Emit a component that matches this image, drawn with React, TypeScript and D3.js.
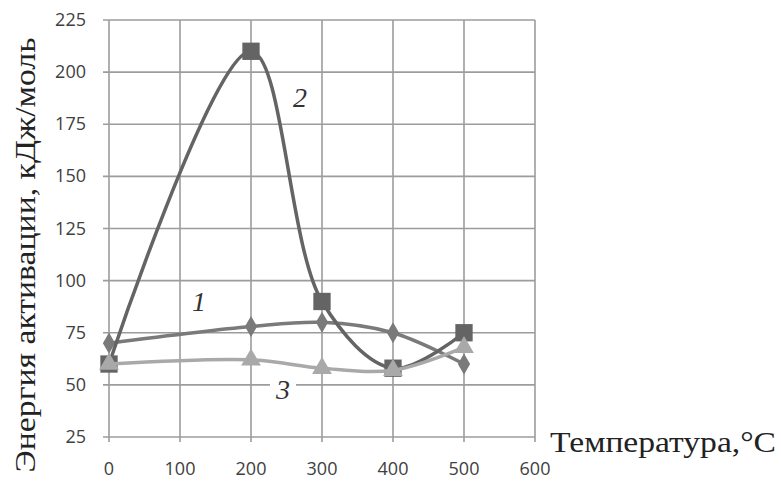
import React, { useEffect, useRef } from 'react';
import * as d3 from 'd3';

const temps = [0, 200, 300, 400, 500];
const series1 = [70, 78, 80, 75, 60];
const series2 = [60, 210, 90, 58, 75];
const series3 = [60, 62, 58, 57, 68];
const xTicks = [0, 100, 200, 300, 400, 500, 600];
const yTicks = [25, 50, 75, 100, 125, 150, 175, 200, 225];

const App = () => {
    const chartRef = useRef<SVGSVGElement>(null);

    useEffect(() => {
        const svg = d3.select(chartRef.current);
        svg.selectAll("*").remove();

        const x = d3.scaleLinear().domain([0, 600]).range([109, 535]);
        const y = d3.scaleLinear().domain([25, 225]).range([437, 20]);
        const grid = "#9c9c9c";

        // grid + ticks
        svg.append("g").selectAll("line")
            .data(xTicks)
            .enter().append("line")
            .attr("x1", d => x(d)).attr("x2", d => x(d))
            .attr("y1", y(225)).attr("y2", y(25) + 5)
            .attr("stroke", grid).attr("stroke-width", 1.6);

        svg.append("g").selectAll("line")
            .data(yTicks)
            .enter().append("line")
            .attr("x1", x(0) - 6).attr("x2", x(600))
            .attr("y1", d => y(d)).attr("y2", d => y(d))
            .attr("stroke", grid).attr("stroke-width", 1.6);

        // tick labels
        svg.append("g").selectAll("text")
            .data(yTicks)
            .enter().append("text")
            .attr("x", 86).attr("y", d => y(d) + 6)
            .attr("text-anchor", "end")
            .attr("font-family", "Open Sans")
            .attr("font-size", 18)
            .attr("fill", "#404040")
            .text(d => d);

        svg.append("g").selectAll("text")
            .data(xTicks)
            .enter().append("text")
            .attr("x", d => x(d)).attr("y", 475)
            .attr("text-anchor", "middle")
            .attr("font-family", "Open Sans")
            .attr("font-size", 18)
            .attr("fill", "#404040")
            .text(d => d);

        const line = d3.line<number>()
            .x((d, i) => x(temps[i]))
            .y(d => y(d))
            .curve(d3.curveCatmullRom.alpha(0.5));

        const all = [
            { values: series1, color: "#7a7a7a", shape: d3.symbolDiamond, size: 130 },
            { values: series2, color: "#646464", shape: d3.symbolSquare, size: 300 },
            { values: series3, color: "#a9a9a9", shape: d3.symbolTriangle, size: 170 },
        ];

        all.forEach(s => {
            svg.append("path")
                .attr("d", line(s.values))
                .attr("fill", "none")
                .attr("stroke", s.color)
                .attr("stroke-width", 3.5);
            svg.append("g").selectAll("path")
                .data(s.values)
                .enter().append("path")
                .attr("transform", (d, i) => `translate(${x(temps[i])},${y(d)})`)
                .attr("d", d3.symbol().type(s.shape).size(s.size)())
                .attr("fill", s.color);
        });

        // curve labels
        const labels = [["1", 199, 311], ["2", 300, 107], ["3", 283, 399]];
        svg.append("rect")
            .attr("x", 270).attr("y", 378).attr("width", 26).attr("height", 24)
            .attr("fill", "white");
        svg.append("g").selectAll("text")
            .data(labels)
            .enter().append("text")
            .attr("x", d => d[1]).attr("y", d => d[2])
            .attr("text-anchor", "middle")
            .attr("font-family", "Liberation Serif")
            .attr("font-style", "italic")
            .attr("font-size", 28)
            .attr("fill", "#333")
            .text(d => d[0]);

        // axis titles
        svg.append("text")
            .attr("transform", "translate(35,255) rotate(-90)")
            .attr("text-anchor", "middle")
            .attr("font-family", "Liberation Serif")
            .attr("font-size", 29)
            .attr("fill", "#222")
            .attr("textLength", 435)
            .attr("lengthAdjust", "spacingAndGlyphs")
            .text("Энергия активации, кДж/моль");

        svg.append("text")
            .attr("x", 550).attr("y", 452)
            .attr("font-family", "Liberation Serif")
            .attr("font-size", 29)
            .attr("fill", "#222")
            .attr("textLength", 226)
            .attr("lengthAdjust", "spacingAndGlyphs")
            .text("Температура,°C");
    }, []);

    return <svg ref={chartRef} width={781} height={481}
        style={{ position: "absolute", left: 0, top: 0, background: "white" }}></svg>;
};

export default App;
